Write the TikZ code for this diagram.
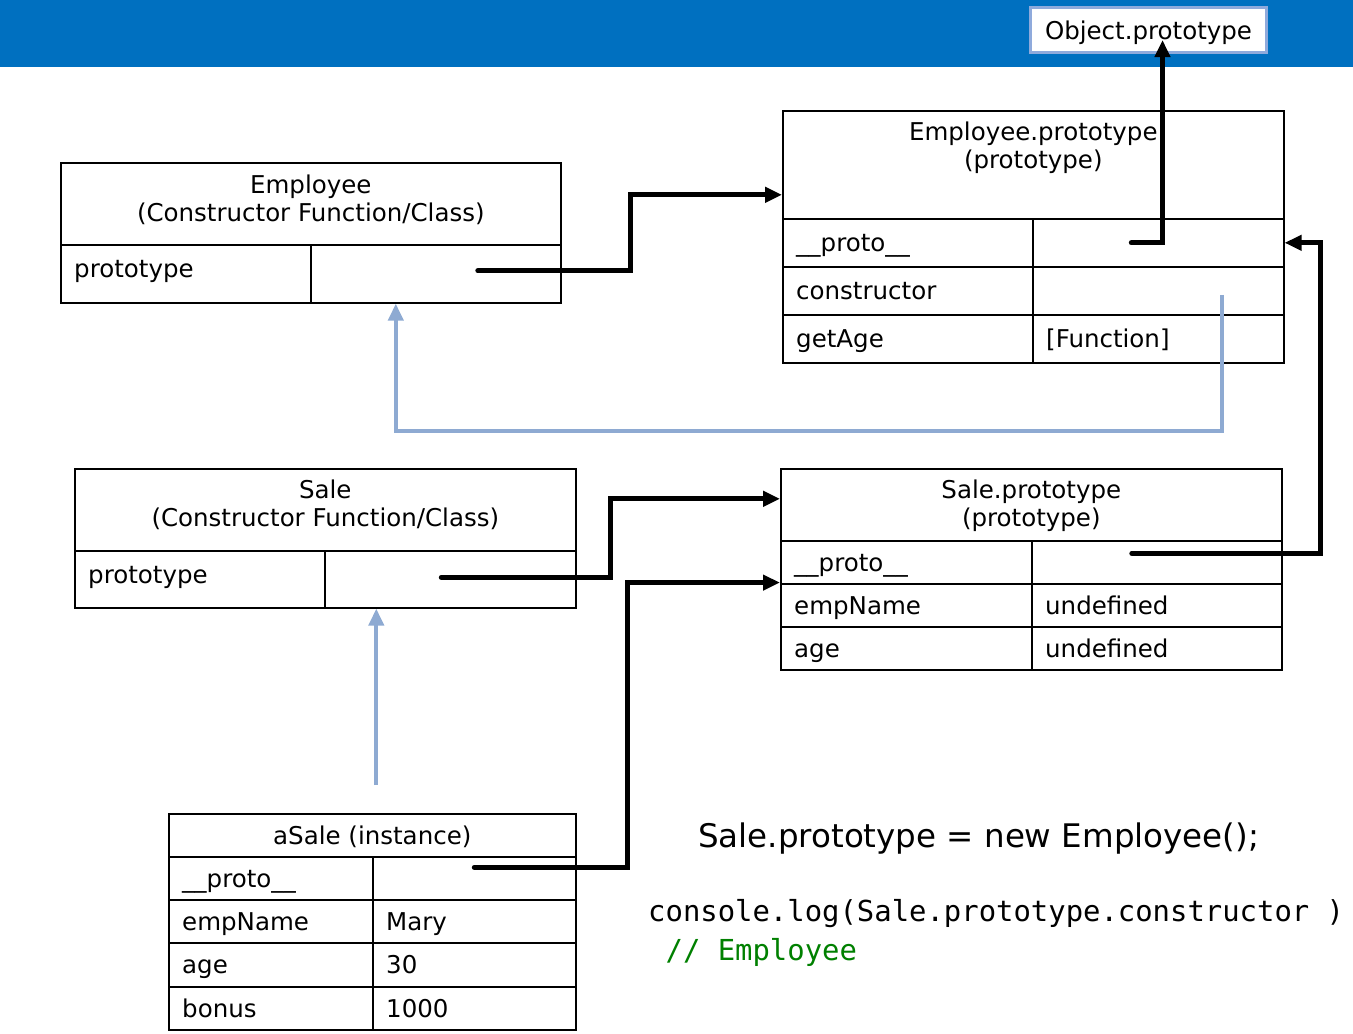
\documentclass[tikz,border=0pt]{standalone}
\usepackage{fontspec}
\setmainfont{DejaVu Sans}
\setmonofont{DejaVu Sans Mono}
\usetikzlibrary{arrows.meta,positioning,calc}
\definecolor{barblue}{HTML}{0070C0}
\definecolor{linkblue}{HTML}{8EAAD2}
\definecolor{objedge}{HTML}{8FAADC}
\definecolor{codegreen}{HTML}{008000}

\begin{document}
\begin{tikzpicture}[x=1pt, y=-1pt,
  every node/.style={font=\fontsize{24.5}{28}\selectfont},
  cell/.style={draw, line width=1.6pt, anchor=north west, inner sep=0pt},
  txt/.style={inner sep=0pt, anchor=west, text height=23pt, text depth=5pt},
  chain/.style={line width=5pt, line cap=round, -{Triangle[length=17pt, width=15pt]}},
  link/.style={linkblue, line width=4pt, -{Triangle[length=17pt, width=15pt]}}]

\useasboundingbox (0,0) rectangle (1353,1034);

% Header bar
\fill[barblue] (0,0) rectangle (1353,67);
\node[draw=objedge, line width=3pt, fill=white, minimum width=236pt, minimum height=45pt, anchor=north west] (obj) at (1029,6) {};
\node at ([yshift=-3pt]obj.center) {Object.prototype};

% Employee constructor
\node[cell, minimum width=500pt, minimum height=82pt] (eh) at (60,162) {};
\node[anchor=north, align=center, inner sep=0pt] at ([yshift=-13pt]eh.north) {Employee\\(Constructor Function/Class)};
\node[cell, minimum width=250pt, minimum height=58pt] (ek) at (60,244) {};
\node[cell, minimum width=250pt, minimum height=58pt] (ev) at (310,244) {};
\node[txt, right=14pt of ek.west, yshift=5pt] {prototype};

% Employee.prototype
\node[cell, minimum width=501pt, minimum height=108pt] (eph) at (782,110) {};
\node[anchor=north, align=center, inner sep=0pt] at ([yshift=-12pt]eph.north) {Employee.prototype\\(prototype)};
\node[cell, minimum width=250pt, minimum height=48pt] (epk) at (782,218) {};
\node[cell, minimum width=251pt, minimum height=48pt] (epv) at (1032,218) {};
\node[cell, minimum width=250pt, minimum height=48pt] (eck) at (782,266) {};
\node[cell, minimum width=251pt, minimum height=48pt] (ecv) at (1032,266) {};
\node[cell, minimum width=250pt, minimum height=48pt] (egk) at (782,314) {};
\node[cell, minimum width=251pt, minimum height=48pt] (egv) at (1032,314) {};
\node[txt, right=14pt of epk.west] {\_\_proto\_\_};
\node[txt, right=14pt of eck.west] {constructor};
\node[txt, right=14pt of egk.west] {getAge};
\node[txt, right=14pt of egv.west] {[Function]};

% Sale constructor
\node[cell, minimum width=501pt, minimum height=82pt] (sh) at (74,468) {};
\node[anchor=north, align=center, inner sep=0pt] at ([yshift=-12pt]sh.north) {Sale\\(Constructor Function/Class)};
\node[cell, minimum width=250pt, minimum height=57pt] (sk) at (74,550) {};
\node[cell, minimum width=251pt, minimum height=57pt] (sv) at (324,550) {};
\node[txt, right=14pt of sk.west, yshift=5pt] {prototype};

% Sale.prototype
\node[cell, minimum width=501pt, minimum height=72pt] (sph) at (780,468) {};
\node[anchor=north, align=center, inner sep=0pt] at ([yshift=-12pt]sph.north) {Sale.prototype\\(prototype)};
\node[cell, minimum width=251pt, minimum height=43pt] (spk) at (780,540) {};
\node[cell, minimum width=250pt, minimum height=43pt] (spv) at (1031,540) {};
\node[cell, minimum width=251pt, minimum height=43pt] (snk) at (780,583) {};
\node[cell, minimum width=250pt, minimum height=43pt] (snv) at (1031,583) {};
\node[cell, minimum width=251pt, minimum height=43pt] (sak) at (780,626) {};
\node[cell, minimum width=250pt, minimum height=43pt] (sav) at (1031,626) {};
\node[txt, right=14pt of spk.west] {\_\_proto\_\_};
\node[txt, right=14pt of snk.west] {empName};
\node[txt, right=14pt of snv.west] {undefined};
\node[txt, right=14pt of sak.west] {age};
\node[txt, right=14pt of sav.west] {undefined};

% aSale instance
\node[cell, minimum width=407pt, minimum height=43pt] (ah) at (168,813) {};
\node[txt, anchor=center] at (ah.center) {aSale (instance)};
\node[cell, minimum width=204pt, minimum height=43pt] (apk) at (168,856) {};
\node[cell, minimum width=203pt, minimum height=43pt] (apv) at (372,856) {};
\node[cell, minimum width=204pt, minimum height=43pt] (ank) at (168,899) {};
\node[cell, minimum width=203pt, minimum height=43pt] (anv) at (372,899) {};
\node[cell, minimum width=204pt, minimum height=44pt] (aak) at (168,942) {};
\node[cell, minimum width=203pt, minimum height=44pt] (aav) at (372,942) {};
\node[cell, minimum width=204pt, minimum height=43pt] (abk) at (168,986) {};
\node[cell, minimum width=203pt, minimum height=43pt] (abv) at (372,986) {};
\node[txt, right=14pt of apk.west] {\_\_proto\_\_};
\node[txt, right=14pt of ank.west] {empName};
\node[txt, right=14pt of anv.west] {Mary};
\node[txt, right=14pt of aak.west] {age};
\node[txt, right=14pt of aav.west] {30};
\node[txt, right=14pt of abk.west] {bonus};
\node[txt, right=14pt of abv.west] {1000};

% Code
\node[txt, font=\fontsize{32.5}{38}\selectfont, text height=30pt, text depth=7pt] (stmt) at (698,836) {Sale.prototype = new Employee();};
\node[txt, font=\ttfamily\fontsize{28.9}{34}\selectfont] (log) at (648,912) {console.log(Sale.prototype.constructor )};
\node[txt, font=\ttfamily\fontsize{28.9}{34}\selectfont, text=codegreen] (out) at (648,951) {\ // Employee};

% Link start points
\coordinate (evs) at ([xshift=42pt, yshift=3pt]ev.center);
\coordinate (epvs) at ([xshift=-27pt]epv.center);
\coordinate (spvs) at ([xshift=-25pt, yshift=9pt]spv.center);
\coordinate (svs) at ([xshift=-9pt, yshift=2pt]sv.center);
\coordinate (apvs) at ([yshift=11pt]apv.center);
\coordinate (ecvs) at ([xshift=64pt, yshift=-4pt]ecv.center);
\coordinate (ahs) at ([xshift=4pt, yshift=28pt]ah.north);

% Prototype chain
\draw[chain] (evs) -- ++(153,0) |- ([yshift=-30pt]eph.west);
\draw[chain] (epvs) -| ([xshift=14pt, yshift=-10pt]obj.center);
\draw[chain] (spvs) -- ++(189,0) |- (epv.east);
\draw[chain] (svs) -- ++(169,0) |- ([yshift=6pt]sph.west);
\draw[chain] (apvs) -- ++(153,0) |- ([yshift=2pt]spk.south west);

% Constructor links
\draw[link] (ecvs) -- ++(0,136) -| ([xshift=-40pt]ev.south);
\draw[link] (ahs) -- ([xshift=-74pt]sv.south);

\end{tikzpicture}
\end{document}
